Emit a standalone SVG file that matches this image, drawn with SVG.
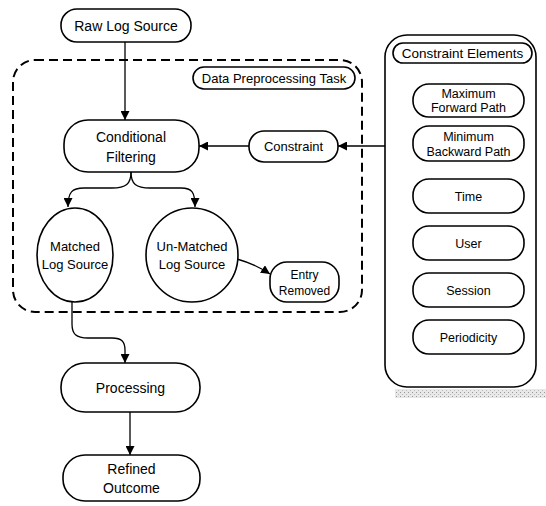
<svg xmlns="http://www.w3.org/2000/svg" width="546" height="506" viewBox="0 0 546 506">
<defs>
<style>
.n{fill:#fff;stroke:#000;stroke-width:1.6}
.t{font-family:"Liberation Sans",Arial,sans-serif;fill:#000;text-anchor:middle}
.c{fill:none;stroke:#000;stroke-width:1.3}
</style>
<marker id="a" viewBox="0 0 10 10" refX="10" refY="5" markerWidth="9" markerHeight="9" markerUnits="userSpaceOnUse" orient="auto">
<path d="M0,0 L10,5 L0,10 Z" fill="#000"/>
</marker>
<pattern id="h" width="4" height="4" patternUnits="userSpaceOnUse">
<rect width="4" height="4" fill="#e8e8e8"/>
<rect width="1" height="1" fill="#999"/>
<rect x="2" y="2" width="1" height="1" fill="#bbb"/>
</pattern>
</defs>
<rect width="546" height="506" fill="#fff"/>

<g id="container">
<rect x="13" y="60" width="349" height="252" rx="22" fill="none" stroke="#000" stroke-width="2" stroke-dasharray="9,5"/>
</g>

<g id="panel">
<rect x="395" y="389" width="151" height="9" fill="url(#h)"/>
<rect class="n" x="385" y="35" width="151" height="352" rx="22"/>
</g>

<g id="connectors">
<line class="c" x1="125" y1="42" x2="125" y2="120" marker-end="url(#a)"/>
<line class="c" x1="249" y1="146" x2="199" y2="146" marker-end="url(#a)"/>
<line class="c" x1="385" y1="146" x2="338" y2="146" marker-end="url(#a)"/>
<path class="c" d="M131,172 C131,184 126,188 112,188 L84,188 C72,188 68,192 68,207" marker-end="url(#a)"/>
<path class="c" d="M131,172 C131,184 136,188 150,188 L181,188 C192,188 195,192 195,207" marker-end="url(#a)"/>
<path class="c" d="M237,259 Q255,264 270,274" marker-end="url(#a)"/>
<path class="c" d="M72,302 L72,324 C72,334 76,338 88,338 L112,338 C122,338 125,342 125,350 L125,363" marker-end="url(#a)"/>
<line class="c" x1="130" y1="412" x2="130" y2="455" marker-end="url(#a)"/>
</g>

<g id="raw">
<rect class="n" x="61" y="9" width="130" height="33" rx="16"/>
<text class="t" x="126" y="30.5" font-size="14">Raw Log Source</text>
</g>

<g id="task-label">
<rect class="n" x="193" y="67" width="162" height="22" rx="11"/>
<text class="t" x="274" y="82.5" font-size="13">Data Preprocessing Task</text>
</g>

<g id="filtering">
<rect class="n" x="64" y="120" width="135" height="52" rx="24"/>
<text class="t" x="131" y="142" font-size="14">Conditional</text>
<text class="t" x="131" y="162" font-size="14">Filtering</text>
</g>

<g id="constraint">
<rect class="n" x="249" y="131" width="89" height="31" rx="15"/>
<text class="t" x="293.5" y="151" font-size="13">Constraint</text>
</g>

<g id="matched">
<ellipse class="n" cx="75" cy="255" rx="38" ry="47"/>
<text class="t" x="75" y="251" font-size="13">Matched</text>
<text class="t" x="75" y="269" font-size="13">Log Source</text>
</g>

<g id="unmatched">
<ellipse class="n" cx="192" cy="255" rx="46" ry="47"/>
<text class="t" x="192" y="251" font-size="13">Un-Matched</text>
<text class="t" x="192" y="269" font-size="13">Log Source</text>
</g>

<g id="removed">
<rect class="n" x="270" y="262" width="69" height="40" rx="17"/>
<text class="t" x="304.5" y="279" font-size="12">Entry</text>
<text class="t" x="304.5" y="295" font-size="12">Removed</text>
</g>

<g id="processing">
<rect class="n" x="61" y="363" width="139" height="49" rx="24"/>
<text class="t" x="130.5" y="392.5" font-size="14">Processing</text>
</g>

<g id="refined">
<rect class="n" x="63" y="455" width="137" height="46" rx="22"/>
<text class="t" x="131.5" y="474" font-size="14">Refined</text>
<text class="t" x="131.5" y="493" font-size="14">Outcome</text>
</g>

<g id="elements-label">
<rect class="n" x="393" y="43" width="139" height="20" rx="10"/>
<text class="t" x="462.5" y="58" font-size="13.5">Constraint Elements</text>
</g>

<g id="max-forward">
<rect class="n" x="413" y="84" width="111" height="33" rx="16"/>
<text class="t" x="468.5" y="97.5" font-size="12.5">Maximum</text>
<text class="t" x="468.5" y="112" font-size="12.5">Forward Path</text>
</g>

<g id="min-backward">
<rect class="n" x="413" y="126" width="111" height="35" rx="16"/>
<text class="t" x="468.5" y="140.5" font-size="12.5">Minimum</text>
<text class="t" x="468.5" y="156" font-size="12.5">Backward Path</text>
</g>

<g id="time">
<rect class="n" x="413" y="179" width="111" height="34" rx="16"/>
<text class="t" x="468.5" y="200.5" font-size="12.5">Time</text>
</g>

<g id="user">
<rect class="n" x="413" y="226" width="111" height="34" rx="16"/>
<text class="t" x="468.5" y="247.5" font-size="12.5">User</text>
</g>

<g id="session">
<rect class="n" x="413" y="273" width="111" height="34" rx="16"/>
<text class="t" x="468.5" y="294.5" font-size="12.5">Session</text>
</g>

<g id="periodicity">
<rect class="n" x="413" y="320" width="111" height="34" rx="16"/>
<text class="t" x="468.5" y="341.5" font-size="12.5">Periodicity</text>
</g>
</svg>
